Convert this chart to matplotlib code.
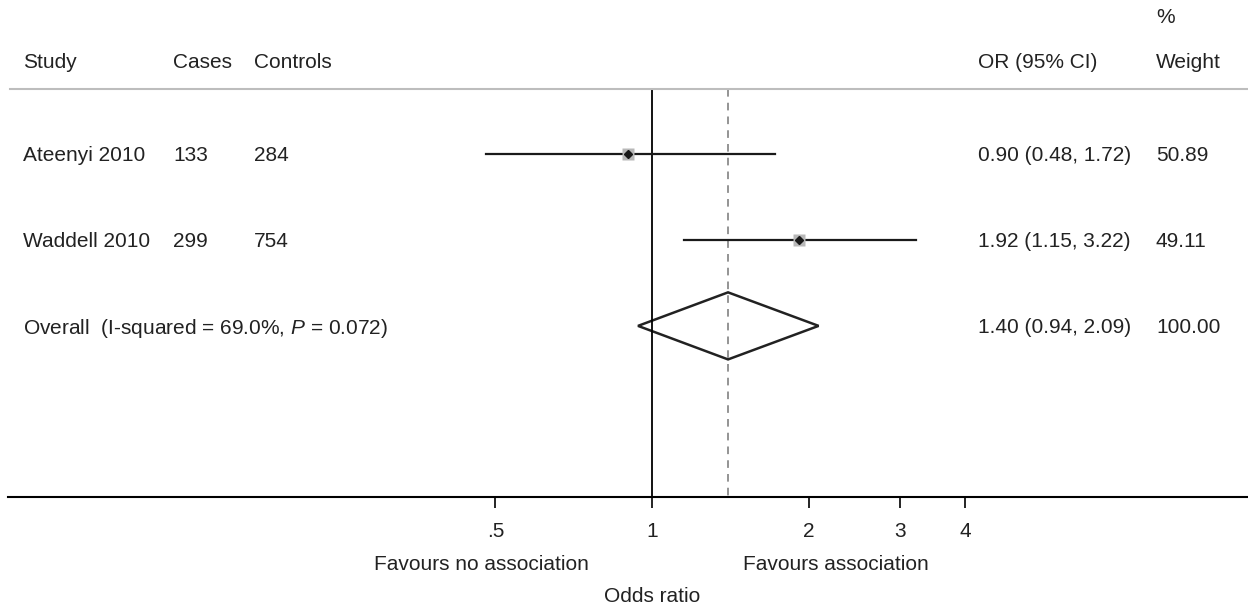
import numpy as np
import matplotlib
matplotlib.use('Agg')
import matplotlib.pyplot as plt
from matplotlib.transforms import blended_transform_factory

# study data
studies = ['Ateenyi 2010', 'Waddell 2010']
cases = [133, 299]
controls = [284, 754]
or_vals = [0.90, 1.92]
ci_lo = [0.48, 1.15]
ci_hi = [1.72, 3.22]
weights = [50.89, 49.11]

# pooled estimate
overall_or = 1.40
overall_lo = 0.94
overall_hi = 2.09
overall_weight = 100.00
overall_label = 'Overall  (I-squared = 69.0%, $P$ = 0.072)'

xticks = [0.5, 1, 2, 3, 4]
xticklabels = ['.5', '1', '2', '3', '4']


def main():
    plt.rcParams['font.family'] = ['Liberation Sans', 'DejaVu Sans']
    plt.rcParams['mathtext.fontset'] = 'custom'
    plt.rcParams['mathtext.rm'] = 'Liberation Sans'
    plt.rcParams['mathtext.it'] = 'Liberation Sans:italic'
    txt = '#222222'
    fs = 15

    W, H = 1248, 608
    fig = plt.figure(figsize=(W / 100, H / 100), dpi=100)
    ax = fig.add_axes([8 / W, (H - 497) / H, 1 - 8 / W, 497 / H])

    # log x scale, 1 at px 652, 226 px per ln unit
    ax.set_xscale('log')
    ax.set_xlim(np.exp((8 - 652) / 226), np.exp((1248 - 652) / 226))
    ax.set_ylim(4.99, -0.79)

    for s in ['top', 'right', 'left']:
        ax.spines[s].set_visible(False)
    ax.spines['bottom'].set_linewidth(1.5)
    ax.set_yticks([])
    ax.set_xticks(xticks)
    ax.set_xticklabels(xticklabels, fontsize=fs, color=txt)
    ax.minorticks_off()
    ax.tick_params(axis='x', length=8, width=1.2, pad=10)

    rows = np.arange(1, len(studies) + 1)
    sep_y = 0.245

    # null line and overall line
    ax.plot([1, 1], [sep_y, 4.99], color='black', lw=1.3)
    ax.plot([overall_or, overall_or], [sep_y, 4.99], color='#777777', lw=1.1,
            ls=(0, (5, 4)))

    # header separator
    ax.plot([np.exp((10 - 652) / 226), 14], [sep_y, sep_y], color='#bdbdbd',
            lw=1.5, clip_on=False)

    # study CIs and markers
    for i, r in enumerate(rows):
        ax.plot([ci_lo[i], ci_hi[i]], [r, r], color='#1a1a1a', lw=1.6)
        ax.plot(or_vals[i], r, marker='s', ms=9 * np.sqrt(weights[i] / 50),
                color='#b8b8b8', mec='none', zorder=3)
        ax.plot(or_vals[i], r, marker='D', ms=4.5, color='#1a1a1a', zorder=4)

    # overall diamond
    ry = len(studies) + 1
    h = 0.39
    ax.fill([overall_lo, overall_or, overall_hi, overall_or],
            [ry, ry - h, ry, ry + h], facecolor='none', edgecolor='#222222', lw=1.8)

    # text columns
    tr = blended_transform_factory(fig.transFigure, ax.transData)
    x_study, x_cases, x_ctrl, x_or, x_wt = 23 / W, 173 / W, 254 / W, 978 / W, 1156 / W
    va = 'center_baseline'
    hy = -0.09
    ax.text(x_study, hy, 'Study', transform=tr, fontsize=fs, va=va, color=txt)
    ax.text(x_cases, hy, 'Cases', transform=tr, fontsize=fs, va=va, color=txt)
    ax.text(x_ctrl, hy, 'Controls', transform=tr, fontsize=fs, va=va, color=txt)
    ax.text(x_or, hy, 'OR (95% CI)', transform=tr, fontsize=fs, va=va, color=txt)
    ax.text(x_wt, hy, 'Weight', transform=tr, fontsize=fs, va=va, color=txt)
    ax.text(x_wt, -0.615, '%', transform=tr, fontsize=fs, va=va, color=txt)

    for i, r in enumerate(rows):
        ax.text(x_study, r, studies[i], transform=tr, fontsize=fs, va=va, color=txt)
        ax.text(x_cases, r, str(cases[i]), transform=tr, fontsize=fs, va=va, color=txt)
        ax.text(x_ctrl, r, str(controls[i]), transform=tr, fontsize=fs, va=va, color=txt)
        ax.text(x_or, r, f'{or_vals[i]:.2f} ({ci_lo[i]:.2f}, {ci_hi[i]:.2f})',
                transform=tr, fontsize=fs, va=va, color=txt)
        ax.text(x_wt, r, f'{weights[i]:.2f}', transform=tr, fontsize=fs,
                va=va, color=txt)

    ax.text(x_study, ry, overall_label, transform=tr, fontsize=fs, va=va, color=txt)
    ax.text(x_or, ry, f'{overall_or:.2f} ({overall_lo:.2f}, {overall_hi:.2f})',
            transform=tr, fontsize=fs, va=va, color=txt)
    ax.text(x_wt, ry, f'{overall_weight:.2f}', transform=tr, fontsize=fs,
            va=va, color=txt)

    # bottom labels
    fig.text(481 / W, 43 / H, 'Favours no association', ha='center', va='center',
             fontsize=fs, color=txt)
    fig.text(836 / W, 43 / H, 'Favours association', ha='center', va='center',
             fontsize=fs, color=txt)
    fig.text(652 / W, 11 / H, 'Odds ratio', ha='center', va='center',
             fontsize=fs, color=txt)

    fig.savefig('out.png', dpi=100)


if __name__ == "__main__":
    main()
